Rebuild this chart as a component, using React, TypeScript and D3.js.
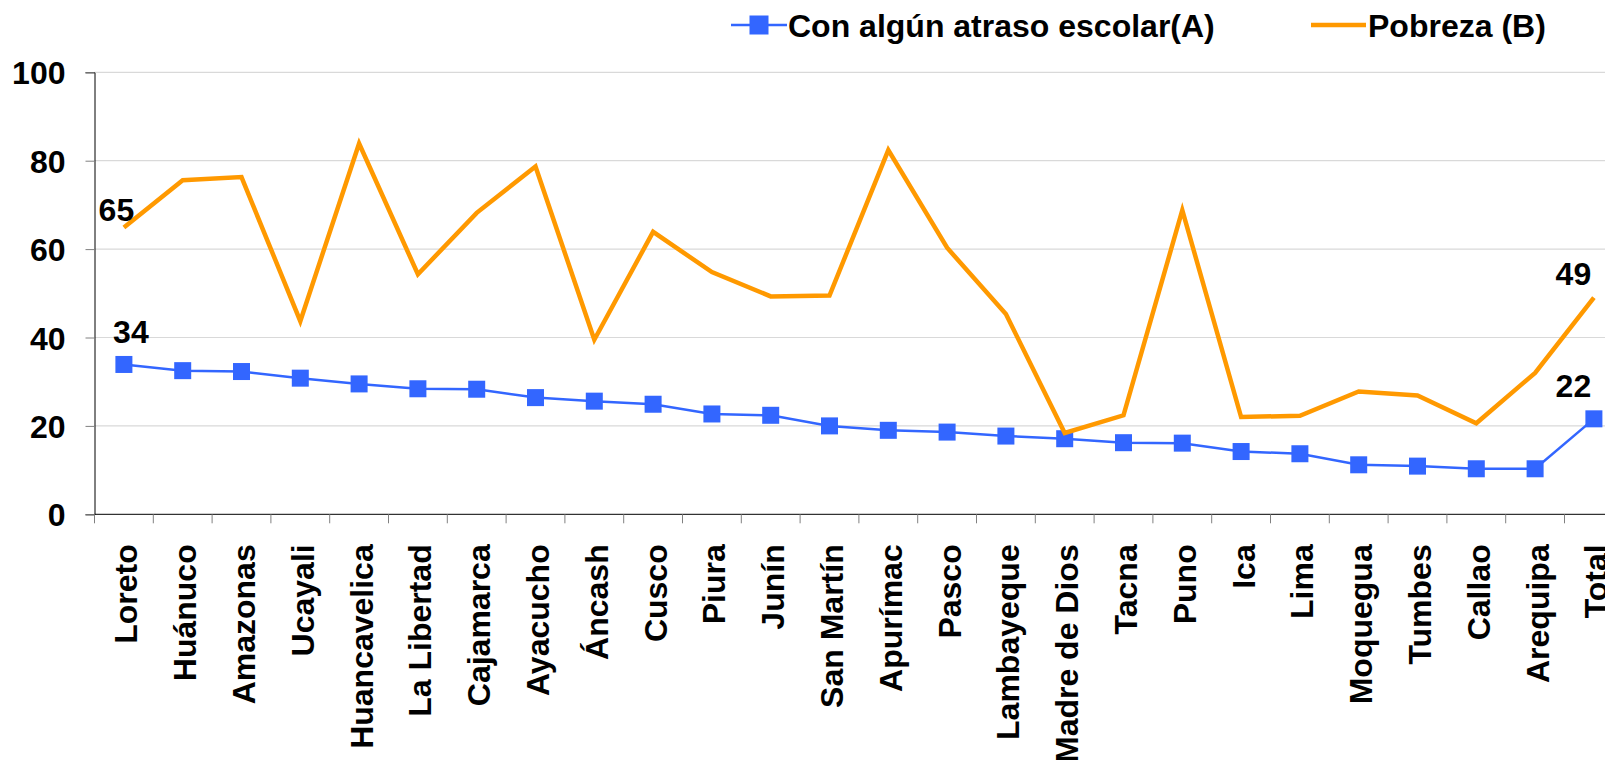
import React, { useEffect, useRef } from 'react'
import * as d3 from 'd3'

// regions, ordered by school delay
const regiones = [
  'Loreto', 'Huánuco', 'Amazonas', 'Ucayali', 'Huancavelica', 'La Libertad',
  'Cajamarca', 'Ayacucho', 'Áncash', 'Cusco', 'Piura', 'Junín', 'San Martín',
  'Apurímac', 'Pasco', 'Lambayeque', 'Madre de Dios', 'Tacna', 'Puno', 'Ica',
  'Lima', 'Moquegua', 'Tumbes', 'Callao', 'Arequipa', 'Total',
]

// Con algún atraso escolar (A)
const atraso = [
  33.9, 32.5, 32.3, 30.8, 29.5, 28.4, 28.3, 26.4, 25.6, 24.9, 22.7, 22.4, 20.0,
  19.0, 18.6, 17.7, 17.1, 16.2, 16.1, 14.2, 13.7, 11.2, 10.9, 10.3, 10.3, 21.6,
]

// Pobreza (B)
const pobreza = [
  64.9, 75.6, 76.3, 43.7, 83.9, 54.3, 68.2, 78.7, 39.5, 63.9, 54.8, 49.3, 49.5,
  82.4, 60.3, 45.3, 18.4, 22.4, 68.8, 22.0, 22.3, 27.8, 26.9, 20.6, 32.0, 49.0,
]

const yTicks = [0, 20, 40, 60, 80, 100]

const legendLabels = ['Con algún atraso escolar(A)', 'Pobreza (B)']

const WIDTH = 1605
const HEIGHT = 760
const FONT = '"Liberation Sans", Arial, sans-serif'
const BLUE = '#3366ff'
const ORANGE = '#ff9900'

export default function App() {
  const ref = useRef<SVGSVGElement | null>(null)

  useEffect(() => {
    const svg = d3.select(ref.current)
    svg.selectAll('*').remove()

    const left = 94.5
    const step = 58.8
    const x = d3.scaleBand<string>()
      .domain(regiones)
      .range([left, left + step * regiones.length])
    const y = d3.scaleLinear().domain([0, 100]).range([514.3, 72.3])
    const cx = (d: string) => (x(d) as number) + x.bandwidth() / 2

    // gridlines
    svg.append('g')
      .selectAll('line')
      .data(yTicks.filter(t => t > 0))
      .enter()
      .append('line')
      .attr('x1', left)
      .attr('x2', WIDTH)
      .attr('y1', d => y(d))
      .attr('y2', d => y(d))
      .attr('stroke', '#d9d9d9')
      .attr('stroke-width', 1.2)

    // y axis
    const yAxis = svg.append('g')
      .attr('transform', `translate(${left},0)`)
      .call(d3.axisLeft(y).tickValues(yTicks).tickSize(9).tickPadding(20))
    yAxis.select('.domain').attr('stroke', '#000')
    yAxis.selectAll('.tick line').attr('stroke', '#808080')
    yAxis.selectAll('.tick text')
      .attr('fill', '#000')
      .attr('font-family', FONT)
      .attr('font-weight', 'bold')
      .attr('font-size', 32)
      .attr('dy', '0.36em')

    // x axis
    const xAxis = svg.append('g')
      .attr('transform', `translate(0,${y(0)})`)
      .call(d3.axisBottom(x).tickSize(0).tickPadding(0))
    xAxis.select('.domain').attr('stroke', '#000').attr('d', `M${left},0H${WIDTH}`)
    xAxis.selectAll('.tick text')
      .attr('fill', '#000')
      .attr('font-family', FONT)
      .attr('font-weight', 'bold')
      .attr('font-size', 32)
      .attr('text-anchor', 'end')
      .attr('transform', 'translate(2,30) rotate(-90)')
      .attr('x', 0)
      .attr('y', 0)
      .attr('dy', '0.36em')

    // tick marks between categories
    svg.append('g')
      .selectAll('line')
      .data(regiones)
      .enter()
      .append('line')
      .attr('x1', d => x(d) as number)
      .attr('x2', d => x(d) as number)
      .attr('y1', y(0))
      .attr('y2', y(0) + 9)
      .attr('stroke', '#808080')

    // series A
    const lineA = d3.line<number>()
      .x((d, i) => cx(regiones[i]))
      .y(d => y(d))
    svg.append('path')
      .datum(atraso)
      .attr('d', lineA)
      .attr('fill', 'none')
      .attr('stroke', BLUE)
      .attr('stroke-width', 2.5)

    const mk = 17
    svg.append('g')
      .selectAll('rect')
      .data(atraso)
      .enter()
      .append('rect')
      .attr('x', (d, i) => cx(regiones[i]) - mk / 2)
      .attr('y', d => y(d) - mk / 2)
      .attr('width', mk)
      .attr('height', mk)
      .attr('fill', BLUE)

    // series B
    svg.append('path')
      .datum(pobreza)
      .attr('d', lineA)
      .attr('fill', 'none')
      .attr('stroke', ORANGE)
      .attr('stroke-width', 4.5)
      .attr('stroke-linejoin', 'miter')

    // data labels on first and last point
    const last = regiones.length - 1
    const labels = [
      { i: 0, v: pobreza[0], dx: -7.5, dy: -6 },
      { i: 0, v: atraso[0], dx: 7, dy: -21.5 },
      { i: last, v: pobreza[last], dx: -20.5, dy: -13 },
      { i: last, v: atraso[last], dx: -20.5, dy: -22 },
    ]
    svg.append('g')
      .selectAll('text')
      .data(labels)
      .enter()
      .append('text')
      .attr('x', d => cx(regiones[d.i]) + d.dx)
      .attr('y', d => y(d.v) + d.dy)
      .attr('text-anchor', 'middle')
      .attr('font-family', FONT)
      .attr('font-weight', 'bold')
      .attr('font-size', 32)
      .text(d => Math.round(d.v))

    // legend
    const legend = svg.append('g').attr('font-family', FONT).attr('font-weight', 'bold').attr('font-size', 32)
    const lgA = legend.append('g').attr('transform', 'translate(731,25)')
    lgA.append('line').attr('x1', 0).attr('x2', 56).attr('stroke', BLUE).attr('stroke-width', 2.5)
    lgA.append('rect').attr('x', 18.5).attr('y', -9.5).attr('width', 19).attr('height', 19).attr('fill', BLUE)
    lgA.append('text').attr('x', 57).attr('y', 12).text(legendLabels[0])

    const lgB = legend.append('g').attr('transform', 'translate(1311,25)')
    lgB.append('line').attr('x1', 0).attr('x2', 55).attr('stroke', ORANGE).attr('stroke-width', 4.5)
    lgB.append('text').attr('x', 57).attr('y', 12).text(legendLabels[1])
  }, [])

  return (
    <svg
      ref={ref}
      width={WIDTH}
      height={HEIGHT}
      style={{ position: 'absolute', left: 0, top: 0, background: '#fff', overflow: 'hidden' }}
    />
  )
}
